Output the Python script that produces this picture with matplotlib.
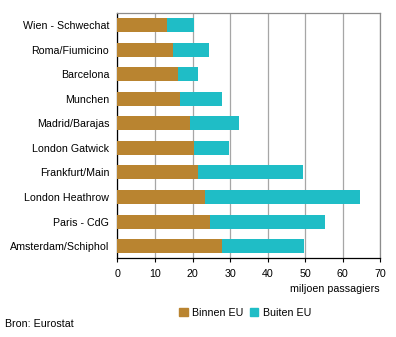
import numpy as np
import matplotlib
matplotlib.use("Agg")
import matplotlib.pyplot as plt
from matplotlib.patches import Patch

plt.rcParams["font.family"] = ["Liberation Sans", "DejaVu Sans"]
plt.rcParams["font.size"] = 7.7

# luchthavens, van boven naar beneden
airports = [
    "Wien - Schwechat",
    "Roma/Fiumicino",
    "Barcelona",
    "Munchen",
    "Madrid/Barajas",
    "London Gatwick",
    "Frankfurt/Main",
    "London Heathrow",
    "Paris - CdG",
    "Amsterdam/Schiphol",
]
binnen_eu = [13.2, 14.8, 16.1, 16.6, 19.3, 20.4, 21.4, 23.4, 24.6, 27.8]
totaal = [20.4, 24.4, 21.5, 27.9, 32.4, 29.8, 49.5, 64.7, 55.3, 49.7]
buiten_eu = [t - b for t, b in zip(totaal, binnen_eu)]
xticks = [0, 10, 20, 30, 40, 50, 60, 70]

BROWN = "#B98430"
CYAN = "#1FBDC6"

fig = plt.figure(figsize=(3.96, 3.37), dpi=100)
ax = fig.add_axes([0.2967, 0.2335, 0.663, 0.728])

y = np.arange(len(airports))
ax.barh(y, binnen_eu, height=0.57, color=BROWN, zorder=3)
ax.barh(y, buiten_eu, left=binnen_eu, height=0.57, color=CYAN, zorder=3)

ax.set_xlim(0, 70)
ax.set_ylim(len(airports) - 0.5, -0.5)
ax.set_xticks(xticks)
ax.set_yticks(y)
ax.set_yticklabels(airports)
ax.tick_params(axis="y", length=0, pad=6)
ax.tick_params(axis="x", length=3, width=0.8, pad=4.5, direction="out")
ax.xaxis.grid(True, color="#A6A6A6", linewidth=0.9, zorder=0)

for side in ["top", "right"]:
    ax.spines[side].set_color("#8C8C8C")
    ax.spines[side].set_linewidth(0.9)
for side in ["left", "bottom"]:
    ax.spines[side].set_color("black")
    ax.spines[side].set_linewidth(0.9)

fig.text(380 / 396, 1 - 289 / 337, "miljoen passagiers", ha="right", va="center")

handles = [Patch(color=BROWN, label="Binnen EU"), Patch(color=CYAN, label="Buiten EU")]
fig.legend(handles=handles, loc="center", bbox_to_anchor=(245 / 396, 1 - 313 / 337),
           ncol=2, frameon=False, handlelength=0.8, handleheight=0.8,
           handletextpad=0.4, columnspacing=0.6, borderaxespad=0)

fig.text(5 / 396, 1 - 324 / 337, "Bron: Eurostat", ha="left", va="center")

fig.savefig("out.png", dpi=100)
